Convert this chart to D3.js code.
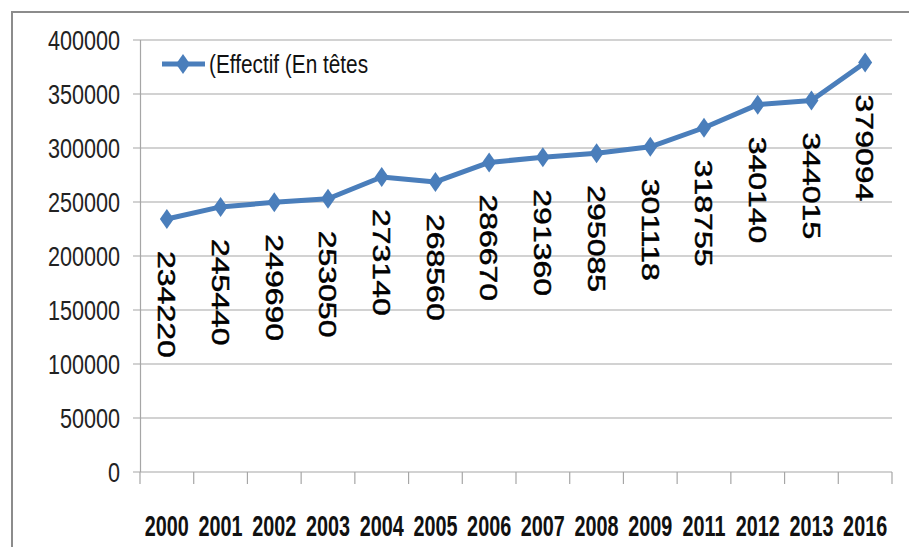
<!DOCTYPE html>
<html>
<head>
<meta charset="utf-8">
<script src="https://cdn.jsdelivr.net/npm/d3@7"></script>
<style>
  body { margin: 0; background: #fff; }
  text { font-family: "Liberation Sans", Arial, sans-serif; }
</style>
</head>
<body>
<script>
const w = 909;
const h = 547;

const years = ["2000", "2001", "2002", "2003", "2004", "2005", "2006", "2007",
               "2008", "2009", "2011", "2012", "2013", "2016"];
const effectif = [234220, 245440, 249690, 253050, 273140, 268560, 286670, 291360,
                  295085, 301118, 318755, 340140, 344015, 379094];
const yTicks = [0, 50000, 100000, 150000, 200000, 250000, 300000, 350000, 400000];
const seriesName = "(Effectif (En têtes";

const blue = "#4a7ebb";
const grey = "#a6a6a6";
const squeeze = 0.76; // text in the picture is horizontally compressed

const svg = d3.select("body").append("svg")
  .attr("width", w)
  .attr("height", h);

// outer frame
svg.append("rect")
  .attr("x", 12).attr("y", 12)
  .attr("width", w + 20).attr("height", h + 20)
  .attr("fill", "none").attr("stroke", "#8c8c8c").attr("stroke-width", 2);

const x = d3.scaleBand().domain(years).range([140, 892]).padding(0);
const y = d3.scaleLinear().domain([0, 400000]).range([472, 40]);

// grid lines
svg.append("g")
  .selectAll("line")
  .data(yTicks)
  .enter()
  .append("line")
  .attr("x1", 133).attr("x2", 892)
  .attr("y1", d => y(d)).attr("y2", d => y(d))
  .attr("stroke", grey).attr("stroke-width", 1.2);

// y axis line
svg.append("line")
  .attr("x1", 140.5).attr("x2", 140.5)
  .attr("y1", y(400000)).attr("y2", y(0))
  .attr("stroke", grey).attr("stroke-width", 1.2);

// y tick labels
svg.append("g")
  .selectAll("text")
  .data(yTicks)
  .enter()
  .append("text")
  .attr("transform", d => `translate(120,${y(d)}) scale(0.8,1)`)
  .attr("dy", "0.36em")
  .attr("text-anchor", "end")
  .attr("font-size", 27)
  .attr("fill", "#222")
  .text(d => d);

// x ticks on band edges
const edges = years.map(d => x(d)).concat([x.range()[1]]);
svg.append("g")
  .selectAll("line")
  .data(edges)
  .enter()
  .append("line")
  .attr("x1", d => d).attr("x2", d => d)
  .attr("y1", y(0)).attr("y2", y(0) + 12)
  .attr("stroke", grey).attr("stroke-width", 1.2);

// x labels
svg.append("g")
  .selectAll("text")
  .data(years)
  .enter()
  .append("text")
  .attr("transform", d => `translate(${x(d) + x.bandwidth() / 2},536) scale(0.66,1)`)
  .attr("text-anchor", "middle")
  .attr("font-size", 30)
  .attr("font-weight", "bold")
  .attr("fill", "#111")
  .text(d => d);

// line
const line = d3.line()
  .x((d, i) => x(years[i]) + x.bandwidth() / 2)
  .y(d => y(d));

svg.append("path")
  .datum(effectif)
  .attr("d", line)
  .attr("fill", "none")
  .attr("stroke", blue)
  .attr("stroke-width", 5)
  .attr("stroke-linejoin", "round");

const diamond = "M0,-10L7,0L0,10L-7,0Z";

svg.append("g")
  .selectAll("path")
  .data(effectif)
  .enter()
  .append("path")
  .attr("d", diamond)
  .attr("transform", (d, i) => `translate(${x(years[i]) + x.bandwidth() / 2},${y(d)})`)
  .attr("fill", blue);

// data labels, rotated
svg.append("g")
  .selectAll("text")
  .data(effectif)
  .enter()
  .append("text")
  .attr("transform", (d, i) =>
    `translate(${x(years[i]) + x.bandwidth() / 2},${y(d) + 32}) scale(${squeeze},1) rotate(90)`)
  .attr("dy", "0.36em")
  .attr("text-anchor", "start")
  .attr("font-size", 32)
  .attr("fill", "#000")
  .attr("stroke", "#000")
  .attr("stroke-width", 0.6)
  .text(d => d);

// legend
const legend = svg.append("g");
legend.append("line")
  .attr("x1", 162).attr("x2", 205)
  .attr("y1", 64).attr("y2", 64)
  .attr("stroke", blue).attr("stroke-width", 5);
legend.append("path")
  .attr("d", diamond)
  .attr("transform", "translate(183,64)")
  .attr("fill", blue);
legend.append("text")
  .attr("transform", `translate(209,73) scale(0.8,1)`)
  .attr("font-size", 26)
  .attr("fill", "#111")
  .text(seriesName);
</script>
</body>
</html>
